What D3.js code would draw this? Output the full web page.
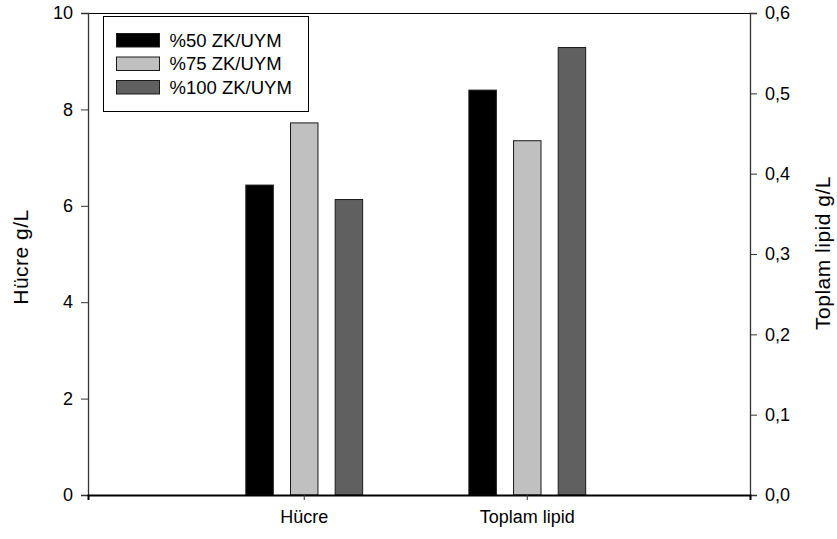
<!DOCTYPE html>
<html lang="tr">
<head>
<meta charset="UTF-8">
<style>
  body { margin: 0; background: #fff; }
  svg { font-family: "Liberation Sans", Arial, sans-serif; }
</style>
</head>
<body>
<svg width="837" height="539"></svg>
<script src="https://d3js.org/d3.v7.min.js"></script>
<script>

// categories and series
var categories = ["Hücre", "Toplam lipid"];
var series = ["%50 ZK/UYM", "%75 ZK/UYM", "%100 ZK/UYM"];
var colors = ["#000000", "#c0c0c0", "#606060"];

// Hücre values read on the left axis (g/L)
var hucreValues = [6.43, 7.72, 6.13];
// Toplam lipid values read on the right axis (g/L)
var lipidValues = [0.504, 0.441, 0.557];

var leftTicks = [0, 2, 4, 6, 8, 10];
var rightTicks = [0, 0.1, 0.2, 0.3, 0.4, 0.5, 0.6];

var margin = {top: 13, right: 87, bottom: 44, left: 88},
    width = 837 - margin.left - margin.right,
    height = 539 - margin.top - margin.bottom;

var svg = d3.select("svg")
  .append("g")
    .attr("transform", "translate(" + margin.left + "," + margin.top + ")");

var x = d3.scaleBand()
    .domain(categories)
    .range([0, width])
    .paddingInner(0)
    .paddingOuter(0.484)
    .align(0.485);

var xInner = d3.scaleBand()
    .domain(series)
    .range([-67, 67])
    .paddingInner(0.385)
    .paddingOuter(0.1925);

var yLeft = d3.scaleLinear().domain([0, 10]).range([height, 0]);
var yRight = d3.scaleLinear().domain([0, 0.6]).range([height, 0]);

// build bar table
var bars = [];
series.forEach(function(s, i) {
  bars.push({cat: categories[0], series: s, value: hucreValues[i], scale: yLeft, color: colors[i]});
  bars.push({cat: categories[1], series: s, value: lipidValues[i], scale: yRight, color: colors[i]});
});

svg.selectAll(".bar")
    .data(bars)
  .enter()
  .append("rect")
    .attr("class", "bar")
    .attr("x", function(d) { return x(d.cat) + x.bandwidth() / 2 + xInner(d.series); })
    .attr("width", xInner.bandwidth())
    .attr("y", function(d) { return d.scale(d.value); })
    .attr("height", function(d) { return height - d.scale(d.value); })
    .attr("fill", function(d) { return d.color; })
    .attr("stroke", "#1a1a1a")
    .attr("stroke-width", 1);

// top frame line
svg.append("line")
    .attr("x1", 0).attr("x2", width)
    .attr("y1", 0.5).attr("y2", 0.5)
    .attr("stroke", "#000").attr("stroke-width", 1);

// left axis
var leftAxis = svg.append("g")
    .call(d3.axisLeft(yLeft).tickValues(leftTicks).tickSize(7).tickPadding(8).tickFormat(d3.format("d")));

// right axis
var rightAxis = svg.append("g")
    .attr("transform", "translate(" + width + ",0)")
    .call(d3.axisRight(yRight).tickValues(rightTicks).tickSize(7).tickPadding(8)
      .tickFormat(function(d) { return d3.format(".1f")(d).replace(".", ","); }));

// bottom axis
var bottomAxis = svg.append("g")
    .attr("transform", "translate(0," + height + ")")
    .call(d3.axisBottom(x).tickSize(5).tickPadding(10));

[leftAxis, rightAxis, bottomAxis].forEach(function(a) {
  a.selectAll(".tick text").attr("font-size", 18).attr("font-family", "Liberation Sans, Arial, sans-serif").attr("fill", "#000");
  a.selectAll(".tick line").attr("stroke", "#333");
  a.select(".domain").attr("stroke", "#333").attr("stroke-width", 1.3);
});
bottomAxis.select(".domain").attr("stroke", "#000").attr("stroke-width", 2);
bottomAxis.selectAll(".tick text").attr("dy", "0.71em");

// axis titles
svg.append("text")
    .attr("transform", "translate(" + (-margin.left + 28) + "," + 244 + ") rotate(-90)")
    .attr("text-anchor", "middle")
    .attr("font-size", 21)
    .attr("letter-spacing", 0.5)
    .text("Hücre g/L");

svg.append("text")
    .attr("transform", "translate(" + (width + 80) + "," + 240 + ") rotate(-90)")
    .attr("text-anchor", "middle")
    .attr("font-size", 21)
    .attr("letter-spacing", 0.5)
    .text("Toplam lipid g/L");

// legend
var legend = svg.append("g")
    .attr("transform", "translate(15.5,3.5)");

legend.append("rect")
    .attr("width", 205)
    .attr("height", 95)
    .attr("fill", "#fff")
    .attr("stroke", "#000")
    .attr("stroke-width", 1);

var item = legend.selectAll(".item")
    .data(series)
  .enter()
  .append("g")
    .attr("class", "item")
    .attr("transform", function(d, i) { return "translate(13," + (17 + i * 23.5) + ")"; });

item.append("rect")
    .attr("width", 43)
    .attr("height", 13.5)
    .attr("fill", function(d, i) { return colors[i]; })
    .attr("stroke", "#1a1a1a")
    .attr("stroke-width", 1);

item.append("text")
    .attr("x", 53)
    .attr("y", 7)
    .attr("dy", "0.35em")
    .attr("font-size", 18.5)
    .text(function(d) { return d; });

</script>
</body>
</html>
